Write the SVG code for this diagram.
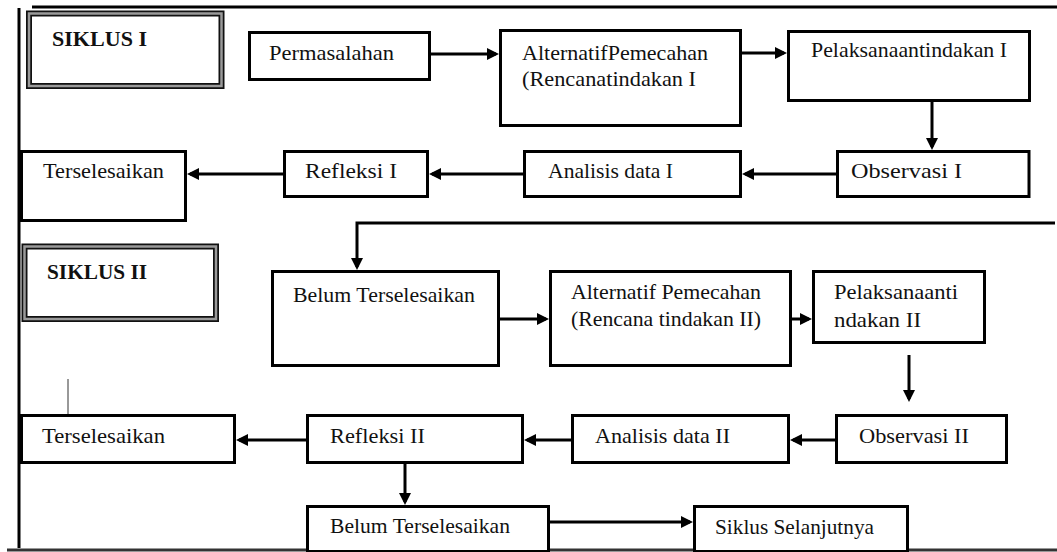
<svg xmlns="http://www.w3.org/2000/svg" width="1057" height="552" viewBox="0 0 1057 552">
<style>
  .box { fill: #fff; stroke: #000; stroke-width: 3; }
  .dbl-outer { fill: #fff; stroke: #111; stroke-width: 6; }
  .dbl-inner { fill: none; stroke: #9a9a9a; stroke-width: 2.5; }
  .t { font-family: "Liberation Serif", "Times New Roman", serif; font-size: 22px; fill: #111; }
  .tb { font-family: "Liberation Serif", "Times New Roman", serif; font-size: 21px; font-weight: bold; fill: #111; }
  .frame { stroke: #000; stroke-width: 3; fill: none; }
  .conn { stroke: #000; stroke-width: 3; fill: none; marker-end: url(#arr); }
</style>
<defs>
  <marker id="arr" viewBox="0 0 12 12" refX="9" refY="6" markerWidth="12" markerHeight="12" markerUnits="userSpaceOnUse" orient="auto">
    <path d="M0,0 L12,6 L0,12 z" fill="#000"/>
  </marker>
</defs>
<rect width="1057" height="552" fill="#fff"/>

<g id="frame">
  <line class="frame" x1="19" y1="8" x2="19" y2="548"/>
  <line class="frame" x1="32" y1="7" x2="1057" y2="7"/>
  <line x1="7" y1="550" x2="1057" y2="550" stroke="#333" stroke-width="3"/>
  <line x1="68" y1="379" x2="68" y2="414" stroke="#333" stroke-width="1"/>
</g>

<g id="siklus1">
  <rect class="dbl-outer" x="29" y="13.5" width="192.5" height="72.5"/>
  <rect class="dbl-inner" x="29" y="13.5" width="192.5" height="72.5"/>
  <text class="tb" x="52" y="46" textLength="95" lengthAdjust="spacingAndGlyphs">SIKLUS  I</text>
</g>

<g id="permasalahan">
  <rect class="box" x="249.5" y="32.5" width="180" height="47"/>
  <text class="t" x="269" y="60" textLength="125" lengthAdjust="spacingAndGlyphs">Permasalahan</text>
</g>

<g id="alternatif1">
  <rect class="box" x="500.5" y="30.5" width="240" height="95"/>
  <text class="t" x="522" y="60" textLength="186" lengthAdjust="spacingAndGlyphs">AlternatifPemecahan</text>
  <text class="t" x="522" y="86" textLength="174" lengthAdjust="spacingAndGlyphs">(Rencanatindakan I</text>
</g>

<g id="pelaksanaan1">
  <rect class="box" x="788.5" y="31.5" width="241" height="69"/>
  <text class="t" x="811" y="57" textLength="196" lengthAdjust="spacingAndGlyphs">Pelaksanaantindakan I</text>
</g>

<g id="observasi1">
  <rect class="box" x="837.5" y="151.5" width="191.5" height="45"/>
  <text class="t" x="851" y="178" textLength="111" lengthAdjust="spacingAndGlyphs">Observasi I</text>
</g>

<g id="analisis1">
  <rect class="box" x="524.5" y="151.5" width="216" height="45"/>
  <text class="t" x="548" y="178" textLength="125" lengthAdjust="spacingAndGlyphs">Analisis data I</text>
</g>

<g id="refleksi1">
  <rect class="box" x="284.5" y="151.5" width="143" height="45"/>
  <text class="t" x="305" y="178" textLength="92" lengthAdjust="spacingAndGlyphs">Refleksi I</text>
</g>

<g id="terselesaikan1">
  <rect class="box" x="21.5" y="151.5" width="164" height="69"/>
  <text class="t" x="43" y="178" textLength="121" lengthAdjust="spacingAndGlyphs">Terselesaikan</text>
</g>

<g id="siklus2">
  <rect class="dbl-outer" x="24.5" y="246.5" width="191.5" height="72.5"/>
  <rect class="dbl-inner" x="24.5" y="246.5" width="191.5" height="72.5"/>
  <text class="tb" x="47" y="279" textLength="100" lengthAdjust="spacingAndGlyphs">SIKLUS II</text>
</g>

<g id="belum1">
  <rect class="box" x="272.5" y="271.5" width="226" height="94"/>
  <text class="t" x="293" y="302" textLength="182" lengthAdjust="spacingAndGlyphs">Belum Terselesaikan</text>
</g>

<g id="alternatif2">
  <rect class="box" x="550.5" y="271.5" width="240" height="94"/>
  <text class="t" x="571" y="299" textLength="190" lengthAdjust="spacingAndGlyphs">Alternatif Pemecahan</text>
  <text class="t" x="571" y="326" textLength="190" lengthAdjust="spacingAndGlyphs">(Rencana tindakan II)</text>
</g>

<g id="pelaksanaan2">
  <rect class="box" x="813.5" y="271.5" width="171" height="71"/>
  <text class="t" x="834" y="299" textLength="124" lengthAdjust="spacingAndGlyphs">Pelaksanaanti</text>
  <text class="t" x="834" y="327" textLength="87" lengthAdjust="spacingAndGlyphs">ndakan II</text>
</g>

<g id="observasi2">
  <rect class="box" x="836.5" y="415.5" width="170" height="47"/>
  <text class="t" x="859" y="443" textLength="110" lengthAdjust="spacingAndGlyphs">Observasi II</text>
</g>

<g id="analisis2">
  <rect class="box" x="572.5" y="415.5" width="216" height="47"/>
  <text class="t" x="595" y="443" textLength="135" lengthAdjust="spacingAndGlyphs">Analisis data II</text>
</g>

<g id="refleksi2">
  <rect class="box" x="307.5" y="415.5" width="215" height="47"/>
  <text class="t" x="330" y="443" textLength="95" lengthAdjust="spacingAndGlyphs">Refleksi II</text>
</g>

<g id="terselesaikan2">
  <rect class="box" x="21.5" y="415.5" width="213" height="47"/>
  <text class="t" x="42" y="443" textLength="123" lengthAdjust="spacingAndGlyphs">Terselesaikan</text>
</g>

<g id="belum2">
  <rect class="box" x="307.5" y="506.5" width="241" height="45"/>
  <text class="t" x="330" y="533" textLength="180" lengthAdjust="spacingAndGlyphs">Belum Terselesaikan</text>
</g>

<g id="siklusSelanjutnya">
  <rect class="box" x="694.5" y="506.5" width="213" height="45"/>
  <text class="t" x="715" y="534" textLength="159" lengthAdjust="spacingAndGlyphs">Siklus Selanjutnya</text>
</g>

<g id="connectors">
  <path class="conn" d="M431,54 H496"/>
  <path class="conn" d="M741,53 H784"/>
  <path class="conn" d="M932,102 V147"/>
  <path class="conn" d="M836,174 H745"/>
  <path class="conn" d="M523,174 H432"/>
  <path class="conn" d="M283,174 H190"/>
  <path class="conn" d="M1055,223 H357 V267"/>
  <path class="conn" d="M500,319 H546"/>
  <path class="conn" d="M792,319 H809"/>
  <path class="conn" d="M909,355 V399"/>
  <path class="conn" d="M835,440 H793"/>
  <path class="conn" d="M571,440 H527"/>
  <path class="conn" d="M306,440 H239"/>
  <path class="conn" d="M405,464 V502"/>
  <path class="conn" d="M550,522 H690"/>
</g>
</svg>
